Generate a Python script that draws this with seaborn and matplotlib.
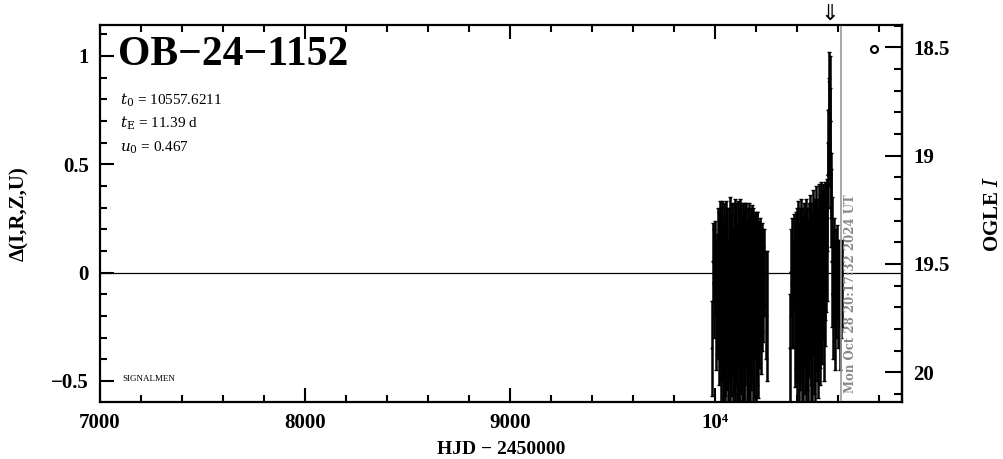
import numpy as np
import pandas as pd
import seaborn as sns
import matplotlib.pyplot as plt
from matplotlib.lines import Line2D
from matplotlib.ticker import MultipleLocator, FixedLocator

# 2023 season
t1 = [9986, 9990, 9994, 9999, 10004, 10009, 10014,
      10019, 10023, 10027, 10031, 10035, 10039, 10043, 10047, 10051, 10055,
      10059, 10063, 10067, 10071, 10075, 10079, 10083, 10087, 10091, 10095,
      10099, 10103, 10107, 10111, 10115, 10119, 10123, 10127, 10131, 10135,
      10139, 10143, 10147, 10151, 10155, 10159, 10163, 10167, 10171, 10175,
      10179, 10183, 10187, 10191, 10195, 10199, 10203, 10207, 10211, 10215,
      10219, 10223, 10227, 10231, 10236, 10241, 10247, 10253]
d1 = [-0.35, 0.05, -0.05, 0.02, -0.15, -0.10, -0.05,
      -0.12, -0.05, -0.18, -0.10, -0.02, -0.20, -0.08, -0.15, -0.25, -0.05,
      -0.12, -0.30, -0.10, -0.05, -0.22, -0.15, -0.08, -0.28, -0.12, -0.02,
      -0.18, -0.10, -0.25, -0.05, -0.15, -0.32, -0.08, -0.12, -0.20, -0.04,
      -0.16, -0.26, -0.10, -0.06, -0.22, -0.14, -0.30, -0.08, -0.18, -0.12,
      -0.05, -0.24, -0.10, -0.16, -0.06, -0.20, -0.12, -0.08, -0.18, -0.10,
      -0.05, -0.15, -0.08, -0.02, -0.10, 0.00, -0.15, -0.20]
e1 = [0.22, 0.18, 0.25, 0.22, 0.30, 0.28, 0.35,
      0.40, 0.38, 0.42, 0.40, 0.35, 0.45, 0.40, 0.42, 0.45, 0.38,
      0.42, 0.45, 0.40, 0.40, 0.45, 0.42, 0.40, 0.48, 0.44, 0.36,
      0.45, 0.42, 0.48, 0.38, 0.44, 0.50, 0.42, 0.44, 0.46, 0.36,
      0.45, 0.48, 0.42, 0.38, 0.46, 0.44, 0.50, 0.40, 0.44, 0.42,
      0.36, 0.46, 0.40, 0.42, 0.34, 0.44, 0.40, 0.36, 0.40, 0.34,
      0.30, 0.32, 0.28, 0.25, 0.22, 0.20, 0.25, 0.30]

# 2024 season
t2 = [10366, 10370, 10375, 10380, 10385,
      10390, 10394, 10398, 10402, 10406, 10410, 10414, 10418, 10422, 10426,
      10430, 10434, 10438, 10442, 10446, 10450, 10454, 10458, 10462, 10466,
      10470, 10474, 10478, 10482, 10486, 10490, 10494, 10498, 10502, 10506,
      10510, 10514, 10518, 10522, 10526, 10530, 10534, 10538, 10542, 10545,
      10548, 10551, 10553, 10555, 10557, 10558.5, 10560, 10562, 10564, 10566,
      10570, 10574, 10578, 10583, 10588, 10593, 10598, 10603, 10608, 10613, 10617]
d2 = [-0.35, 0.00, -0.05, -0.10, 0.05,
      -0.15, -0.08, -0.20, -0.10, -0.05, -0.22, -0.12, -0.02, -0.18, -0.10,
      -0.25, -0.06, -0.14, -0.20, -0.04, -0.12, -0.24, -0.08, -0.02, -0.16,
      -0.10, -0.20, 0.00, -0.12, -0.06, -0.18, 0.02, -0.08, -0.14, 0.05,
      -0.04, -0.10, 0.08, -0.02, 0.05, -0.08, 0.10, 0.02, 0.12, 0.15,
      0.25, 0.45, 0.60, 0.75, 0.88, 0.85, 0.70, 0.55, 0.40, 0.30,
      0.05, -0.10, 0.00, -0.15, -0.05, 0.00, -0.10, -0.05, -0.20, -0.10, -0.05]
e2 = [0.25, 0.20, 0.30, 0.25, 0.22,
      0.38, 0.36, 0.42, 0.40, 0.38, 0.45, 0.42, 0.36, 0.44, 0.40,
      0.46, 0.38, 0.42, 0.45, 0.38, 0.42, 0.48, 0.40, 0.38, 0.44,
      0.42, 0.46, 0.38, 0.44, 0.40, 0.46, 0.38, 0.42, 0.44, 0.36,
      0.40, 0.42, 0.34, 0.40, 0.36, 0.42, 0.32, 0.36, 0.30, 0.28,
      0.15, 0.15, 0.15, 0.15, 0.14, 0.15, 0.15, 0.15, 0.15, 0.18,
      0.30, 0.30, 0.25, 0.30, 0.25, 0.22, 0.25, 0.20, 0.25, 0.20, 0.20]

t0 = 10557.6211
now_hjd = 10612.35
base_mag = 19.54

df = pd.DataFrame({"hjd": t1 + t2, "dmag": d1 + d2, "err": e1 + e2})

sns.set_theme(style="ticks")
plt.rcParams["font.family"] = ["Liberation Serif", "DejaVu Serif"]
plt.rcParams["mathtext.fontset"] = "dejavuserif"
for k in ["text.color", "axes.labelcolor", "xtick.color", "ytick.color",
          "axes.edgecolor"]:
    plt.rcParams[k] = "black"

fig = plt.figure(figsize=(10.04, 4.59), dpi=100)
ax = fig.add_axes([0.0996, 0.1242, 0.7988, 0.8213])

ax.errorbar(df.hjd, df.dmag, yerr=df.err, fmt="none", ecolor="black",
            elinewidth=1.8, capsize=1.5, capthick=1.0, zorder=3)
sns.scatterplot(data=df, x="hjd", y="dmag", color="black", s=5,
                edgecolor="none", ax=ax, zorder=4)

ax.axhline(0, color="black", lw=0.9, zorder=2)
ax.axvline(now_hjd, color="#999999", lw=1.2, zorder=5)

ax.set_xlim(7000, 10912)
ax.set_ylim(-0.597, 1.143)
ax.xaxis.set_major_locator(FixedLocator([7000, 8000, 9000, 10000]))
ax.xaxis.set_minor_locator(MultipleLocator(200))
ax.set_xticklabels(["7000", "8000", "9000", "10\u2074"])
ax.yaxis.set_major_locator(FixedLocator([-0.5, 0, 0.5, 1]))
ax.yaxis.set_minor_locator(MultipleLocator(0.1))
ax.set_yticklabels(["\u22120.5", "0", "0.5", "1"])
ax.tick_params(which="both", direction="in", top=True, right=False,
               width=1.5, labelsize=15, pad=8)
ax.tick_params(which="major", length=10)
ax.tick_params(which="minor", length=5)
for lab in ax.get_xticklabels() + ax.get_yticklabels():
    lab.set_fontweight("bold")
for s in ax.spines.values():
    s.set_linewidth(1.6)

ax.set_xlabel("HJD \u2212 2450000", fontsize=14, fontweight="bold", labelpad=6)
ax.set_ylabel("\u0394(I,R,Z,U)", fontsize=15, fontweight="bold", labelpad=16)

ax2 = ax.twinx()
ax2.set_ylim(base_mag - ax.get_ylim()[0], base_mag - ax.get_ylim()[1])
ax2.yaxis.set_major_locator(FixedLocator([18.5, 19, 19.5, 20]))
ax2.yaxis.set_minor_locator(MultipleLocator(0.1))
ax2.set_yticklabels(["18.5", "19", "19.5", "20"])
ax2.tick_params(which="both", direction="in", width=1.5, labelsize=15, pad=8)
ax2.tick_params(which="major", length=12)
ax2.tick_params(which="minor", length=6)
for lab in ax2.get_yticklabels():
    lab.set_fontweight("bold")
ax2.set_ylabel("OGLE $\\mathit{I}$", fontsize=15, fontweight="bold",
               rotation=90, labelpad=24)
ax2.spines["right"].set_linewidth(1.6)

ax.text(0.022, 0.97, "OB\u221224\u22121152", transform=ax.transAxes,
        fontsize=30, fontweight="bold", va="top", ha="left")
ax.text(0.025, 0.80, "$t_0$ = 10557.6211", transform=ax.transAxes,
        fontsize=11, va="center")
ax.text(0.025, 0.74, "$t_\\mathrm{E}$ = 11.39 d", transform=ax.transAxes,
        fontsize=11, va="center")
ax.text(0.025, 0.675, "$u_0$ = 0.467", transform=ax.transAxes,
        fontsize=11, va="center")
ax.text(0.028, 0.06, "SIGNALMEN", transform=ax.transAxes, fontsize=6.5,
        va="center")

ax.text(now_hjd + 18, -0.555, "Mon Oct 28 20:17:32 2024 UT", rotation=90,
        color="#888888", fontsize=8.5, fontweight="bold", va="bottom",
        ha="left", family=["DejaVu Serif"])
ax.annotate("\u21d3", xy=(t0, 1.143), xytext=(0, 1), textcoords="offset points",
            ha="center", va="bottom", fontsize=16, family=["DejaVu Sans"],
            annotation_clip=False)

leg = ax.legend(handles=[Line2D([], [], marker="o", mfc="none", mec="black",
                                mew=1.5, ms=5, ls="none")],
                labels=[""], loc="upper right", frameon=False,
                bbox_to_anchor=(0.98, 0.97), handlelength=0.5,
                handletextpad=0, borderpad=0)

plt.savefig("out.png", dpi=100)
